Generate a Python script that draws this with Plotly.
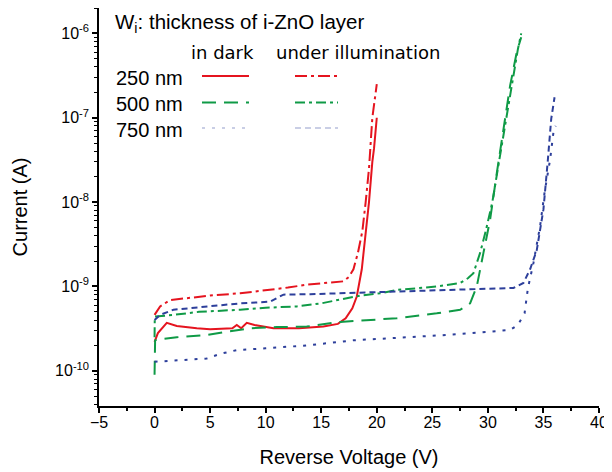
import numpy as np
import plotly.graph_objects as go

# ---------------- data ----------------
v_250_dark = [0, 0.3, 1.1, 2, 3.8, 5, 7, 7.4, 7.8, 8.3, 9, 10.7, 13, 15.2, 16.5, 17.2, 17.8, 18.2, 18.65, 19.0, 19.3, 19.6, 19.75, 20.0]
i_250_dark = [2.2e-10, 2.8e-10, 3.7e-10, 3.4e-10, 3.2e-10, 3.1e-10, 3.2e-10, 3.5e-10, 3.2e-10, 3.7e-10, 3.5e-10, 3.2e-10,
              3.2e-10, 3.35e-10, 3.6e-10, 4.2e-10, 5.5e-10, 7.6e-10, 1.6e-9, 4e-9, 1e-8, 3e-8, 4.3e-8, 1e-7]

v_250_ill = [0, 0.5, 1.4, 3, 5, 7.7, 10, 12, 13.7, 15.5, 17, 17.5, 17.9, 18.3, 18.7, 19.0, 19.3, 19.6, 19.8, 20.0]
i_250_ill = [4.6e-10, 5.8e-10, 6.9e-10, 7.3e-10, 7.8e-10, 8.3e-10, 9e-10, 9.7e-10, 1.05e-9, 1.1e-9, 1.15e-9, 1.3e-9,
             1.6e-9, 2.5e-9, 4.5e-9, 1e-8, 2.5e-8, 1e-7, 1.6e-7, 2.5e-7]

v_500_dark = [0, 0.05, 0.2, 2, 4.7, 8.6, 11, 13.7, 16.7, 20.3, 21.8, 25.4, 27.5, 28.4, 29.0, 29.6, 30.2, 30.8, 31.4, 32.0, 32.6, 33.0]
i_500_dark = [9e-11, 2.3e-10, 2.35e-10, 2.5e-10, 2.66e-10, 3.2e-10, 3.3e-10, 3.35e-10, 3.8e-10, 4.1e-10, 4.2e-10, 4.8e-10,
              5.3e-10, 6.3e-10, 1e-9, 2.5e-9, 6.2e-9, 2.2e-8, 7.3e-8, 2.4e-7, 6e-7, 9e-7]

v_500_ill = [0, 0.02, 1.7, 4, 7.7, 10, 12.8, 15, 16.7, 18.5, 20.3, 21.8, 23.5, 25.4, 27.5, 28.2, 28.7, 29.3, 29.8, 30.4,
             31.0, 31.6, 32.2, 32.7, 33.0]
i_500_ill = [2.5e-10, 4.4e-10, 4.6e-10, 5e-10, 5.3e-10, 5.6e-10, 5.8e-10, 6.3e-10, 7e-10, 7.8e-10, 8.3e-10, 9.1e-10, 9.5e-10,
             1e-9, 1.1e-9, 1.25e-9, 1.44e-9, 2.5e-9, 4.5e-9, 1e-8, 3e-8, 9e-8, 2.8e-7, 6.5e-7, 1e-6]

v_750_dark = [0, 2.3, 4.7, 6, 7.4, 10, 13.7, 17.9, 20.3, 21.8, 26.3, 30, 32.0, 32.7, 33.3, 33.6, 34.1, 34.7, 35.1, 35.6, 35.9, 36.1]
i_750_dark = [1.28e-10, 1.34e-10, 1.4e-10, 1.6e-10, 1.76e-10, 1.85e-10, 2.0e-10, 2.3e-10, 2.4e-10, 2.5e-10, 2.66e-10,
              2.9e-10, 3.05e-10, 3.5e-10, 4.8e-10, 9.5e-10, 1.9e-9, 5.2e-9, 1.3e-8, 3.2e-8, 6.7e-8, 8e-8]

v_750_ill = [0, 0.5, 1.7, 4.7, 7.7, 10.4, 11.0, 11.6, 14, 16.7, 20.3, 21.8, 26.3, 30, 32.3, 33.2, 33.8, 34.4, 35.0, 35.4, 35.7, 36.0]
i_750_ill = [4e-10, 4.6e-10, 5.3e-10, 5.8e-10, 6.3e-10, 6.6e-10, 7.2e-10, 8e-10, 8.1e-10, 8.3e-10, 8.7e-10, 8.7e-10,
             9.1e-10, 9.4e-10, 9.6e-10, 1.1e-9, 1.6e-9, 2.7e-9, 8.2e-9, 3.2e-8, 9.7e-8, 1.75e-7]

thickness_labels = ["250 nm", "500 nm", "750 nm"]
y_tick_vals = [1e-10, 1e-9, 1e-8, 1e-7, 1e-6]
y_tick_text = ["10<sup>-10</sup>", "10<sup>-9</sup>", "10<sup>-8</sup>", "10<sup>-7</sup>", "10<sup>-6</sup>"]

# ---------------- styles ----------------
RED = "#e5141f"
GREEN = "#0f9a46"
BLUE = "#2d3f9b"
FONT = "Liberation Sans, Arial, sans-serif"

series = [
    (v_250_dark, i_250_dark, RED, "solid"),
    (v_250_ill, i_250_ill, RED, "12px,4px,3px,4px"),
    (v_500_dark, i_500_dark, GREEN, "14px,8px"),
    (v_500_ill, i_500_ill, GREEN, "10px,4px,3px,4px"),
    (v_750_dark, i_750_dark, BLUE, "3px,7px"),
    (v_750_ill, i_750_ill, BLUE, "6px,4px"),
]

fig = go.Figure()
for v, i, col, dash in series:
    fig.add_trace(go.Scatter(x=v, y=i, mode="lines",
                             line=dict(color=col, width=2, dash=dash),
                             showlegend=False, hoverinfo="skip"))

minor_y = [k * 10.0 ** e for e in range(-11, -5) for k in range(2, 10)]

# page has an 8px body margin: figure is drawn from (8, 8) on screen
fig.update_layout(
    width=604, height=464,
    margin=dict(l=91, r=13, t=0, b=66, autoexpand=False),
    paper_bgcolor="white", plot_bgcolor="white",
    font=dict(family=FONT, color="black", size=16),
    xaxis=dict(
        range=[-5, 40], dtick=5, tick0=0, automargin=False,
        showgrid=False, zeroline=False,
        showline=True, linecolor="black", linewidth=1.5,
        ticks="outside", ticklen=5, tickwidth=1.5, tickcolor="black",
        minor=dict(dtick=2.5, tick0=0, ticks="outside", ticklen=3, tickwidth=1.5, tickcolor="black", showgrid=False),
        tickfont=dict(size=16), ticklabelstandoff=-4,
        title=dict(text="Reverse Voltage (V)", font=dict(size=20), standoff=20),
    ),
    yaxis=dict(
        type="log", range=[-10.417, -5.699], automargin=False,
        tickmode="array", tickvals=y_tick_vals, ticktext=y_tick_text,
        showgrid=False, zeroline=False,
        showline=True, linecolor="black", linewidth=1.5,
        ticks="outside", ticklen=5, tickwidth=1.5, tickcolor="black",
        minor=dict(tickmode="array", tickvals=minor_y, ticks="outside", ticklen=3, tickwidth=1, tickcolor="black",
                   showgrid=False),
        tickfont=dict(size=16),
        title=dict(text="Current (A)", font=dict(size=20), standoff=22),
    ),
)

# ---------------- legend-like annotations (screen pixel -> paper) ----------------
def px2paper(x, y):
    return (x - 99) / 500.0, (406 - y) / 398.0

ann = []
x0, _ = px2paper(113, 17)
ann.append(dict(text="W<sub>i</sub>: thickness of i-ZnO layer", x=x0, y=1.0, xanchor="left", yanchor="top",
                font=dict(size=20.5)))
for txt, cx in [("in dark", 222), ("under illumination", 358)]:
    xx, yy = px2paper(cx, 52)
    ann.append(dict(text=txt, x=xx, y=yy, xanchor="center", yanchor="middle",
                    font=dict(size=18, family="DejaVu Sans, sans-serif")))
line_y = [76, 102.5, 128]
for lab, ry in zip(thickness_labels, line_y):
    xx, yy = px2paper(114, ry + 1.5)
    ann.append(dict(text=lab, x=xx, y=yy, xanchor="left", yanchor="middle", font=dict(size=20)))
for a in ann:
    a.update(xref="paper", yref="paper", showarrow=False)
fig.update_layout(annotations=ann)

shapes = []
for k, ry in enumerate(line_y):
    for j, (xa, xb) in enumerate([(202, 249), (295, 338)]):
        col = series[2 * k + j][2]
        dash = series[2 * k + j][3]
        p0 = px2paper(xa, ry)
        p1 = px2paper(xb, ry)
        op = 0.25 if k == 2 else 1.0
        shapes.append(dict(type="line", xref="paper", yref="paper", x0=p0[0], y0=p0[1], x1=p1[0], y1=p1[1],
                           line=dict(color=col, width=2, dash=dash), opacity=op))
fig.update_layout(shapes=shapes)

fig.write_html("out.html")
